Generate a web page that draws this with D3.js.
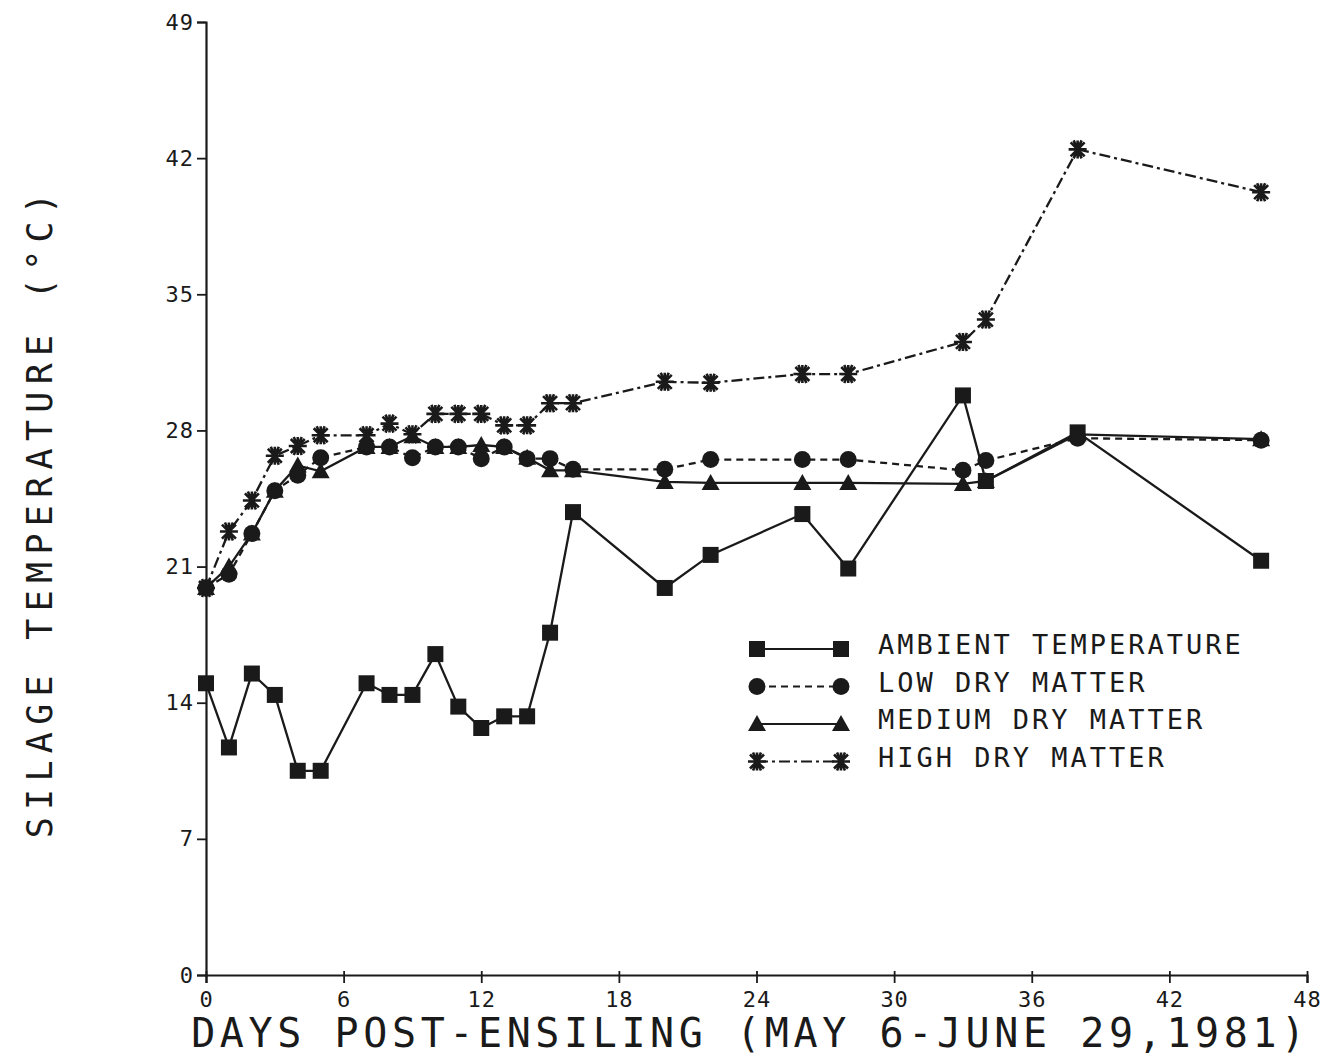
<!DOCTYPE html>
<html>
<head>
<meta charset="utf-8">
<script src="https://cdn.jsdelivr.net/npm/d3@7"></script>
<style>
    body { margin: 0; background: #fff; }
    text { font-family: "DejaVu Sans Mono", monospace; fill: #1a1a1a; }
</style>
</head>
<body>
<svg width="1333" height="1059"></svg>
<script>
// days post-ensiling at which temperatures were read
var days = [0, 1, 2, 3, 4, 5, 7, 8, 9, 10, 11, 12, 13, 14, 15, 16, 20, 22, 26, 28, 33, 34, 38, 46];

var ambient = [15.0, 11.7, 15.5, 14.4, 10.5, 10.5, 15.0, 14.4, 14.4, 16.5, 13.8, 12.7, 13.3, 13.3, 17.6, 23.8,
    19.9, 21.6, 23.7, 20.9, 29.8, 25.4, 27.9, 21.3];
var lowDM = [19.9, 20.6, 22.7, 24.9, 25.7, 26.6, 27.15, 27.15, 26.6, 27.15, 27.15, 26.55, 27.15, 26.55, 26.55, 26.0,
    26.0, 26.5, 26.5, 26.5, 25.95, 26.45, 27.6, 27.5];
var mediumDM = [19.9, 21.0, 22.7, 24.9, 26.2, 25.9, 27.15, 27.15, 27.7, 27.15, 27.15, 27.25, 27.15, 26.6, 25.95, 25.95,
    25.35, 25.3, 25.3, 25.3, 25.25, 25.4, 27.8, 27.55];
var highDM = [19.9, 22.8, 24.4, 26.7, 27.2, 27.75, 27.75, 28.35, 27.8, 28.85, 28.85, 28.85, 28.26, 28.26, 29.4, 29.4,
    30.5, 30.45, 30.9, 30.9, 32.55, 33.7, 42.45, 40.25];

var seriesNames = ["AMBIENT TEMPERATURE", "LOW DRY MATTER", "MEDIUM DRY MATTER", "HIGH DRY MATTER"];
var xTicks = [0, 6, 12, 18, 24, 30, 36, 42, 48];
var yTicks = [0, 7, 14, 21, 28, 35, 42, 49];
var xTitle = "DAYS POST-ENSILING (MAY 6-JUNE 29,1981)";
var yTitle = "SILAGE TEMPERATURE (\u00B0C)";

var ink = "#1a1a1a";
var margin = {top: 22, right: 26, bottom: 84, left: 206};
var width = 1333 - margin.left - margin.right;
var height = 1059 - margin.top - margin.bottom;

var x = d3.scaleLinear().domain([0, 48]).range([0, width]);
var y = d3.scaleLinear().domain([0, 49]).range([height, 0]);

var styles = [
    {values: ambient, marker: "square", dash: null},
    {values: lowDM, marker: "circle", dash: "7 5"},
    {values: mediumDM, marker: "triangle", dash: null},
    {values: highDM, marker: "asterisk", dash: "11 4 3 4"}
];

var svg = d3.select("svg");
var g = svg.append("g")
    .attr("transform", "translate(" + margin.left + "," + margin.top + ")");

// marker drawing, shared by plot and legend
function drawMarker(sel, kind) {
    if (kind === "square") {
        sel.append("rect").attr("x", -8).attr("y", -8).attr("width", 16).attr("height", 16).attr("fill", ink);
    } else if (kind === "circle") {
        sel.append("circle").attr("r", 8.5).attr("fill", ink);
    } else if (kind === "triangle") {
        sel.append("path").attr("d", "M0,-9L9,7L-9,7Z").attr("fill", ink);
    } else {
        sel.append("path")
            .attr("d", "M-9,0H9M0,-9V9M-7,-7L7,7M-7,7L7,-7M-4,-9L4,9M4,-9L-4,9")
            .attr("stroke", ink).attr("stroke-width", 2.6).attr("fill", "none");
    }
}

// axes
var xAxis = g.append("g")
    .attr("transform", "translate(0," + height + ")")
    .call(d3.axisBottom(x).tickValues(xTicks).tickSize(8).tickPadding(8));
var yAxis = g.append("g")
    .call(d3.axisLeft(y).tickValues(yTicks).tickSize(9).tickPadding(3));

[xAxis, yAxis].forEach(function(ax) {
    ax.select(".domain").attr("stroke", ink).attr("stroke-width", 2.2);
    ax.selectAll(".tick line").attr("stroke", ink).attr("stroke-width", 1.8);
    ax.selectAll(".tick text")
        .style("font-family", "'DejaVu Sans Mono', monospace")
        .style("font-size", "22px")
        .style("letter-spacing", "1px")
        .attr("fill", ink);
});
xAxis.selectAll(".tick line").attr("y1", -4);

// axis titles
svg.append("text")
    .attr("x", margin.left + width / 2 - 6)
    .attr("y", 1047)
    .attr("text-anchor", "middle")
    .style("font-size", "40px")
    .style("letter-spacing", "4.6px")
    .text(xTitle);

svg.append("text")
    .attr("transform", "translate(52," + 512 + ") rotate(-90)")
    .attr("text-anchor", "middle")
    .style("font-size", "35px")
    .style("letter-spacing", "7.3px")
    .text(yTitle);

// series lines and markers
styles.forEach(function(s) {
    var pts = days.map(function(d, i) { return [d, s.values[i]]; });
    var line = d3.line()
        .x(function(p) { return x(p[0]); })
        .y(function(p) { return y(p[1]); });
    g.append("path")
        .datum(pts)
        .attr("d", line)
        .attr("fill", "none")
        .attr("stroke", ink)
        .attr("stroke-width", 2.3)
        .attr("stroke-dasharray", s.dash);
    g.append("g").selectAll("g")
        .data(pts)
        .enter()
        .append("g")
        .attr("transform", function(p) { return "translate(" + x(p[0]) + "," + y(p[1]) + ")"; })
        .each(function() { drawMarker(d3.select(this), s.marker); });
});

// legend
var legend = svg.append("g").attr("transform", "translate(757,649)");
seriesNames.forEach(function(name, i) {
    var row = legend.append("g").attr("transform", "translate(0," + (i * 37.5) + ")");
    row.append("line")
        .attr("x1", 0).attr("x2", 84)
        .attr("stroke", ink).attr("stroke-width", 2.2)
        .attr("stroke-dasharray", styles[i].dash);
    drawMarker(row.append("g"), styles[i].marker);
    drawMarker(row.append("g").attr("transform", "translate(84,0)"), styles[i].marker);
    row.append("text")
        .attr("x", 121)
        .attr("y", 5)
        .style("font-size", "27px")
        .style("letter-spacing", "3px")
        .text(name);
});
</script>
</body>
</html>
